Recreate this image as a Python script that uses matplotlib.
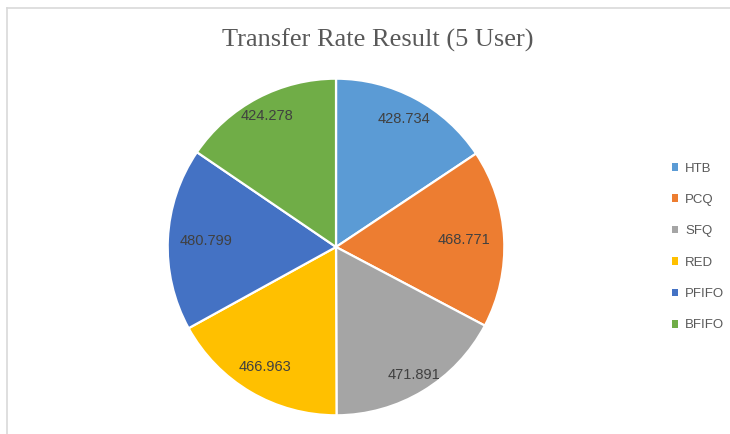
import matplotlib
matplotlib.use("Agg")
import matplotlib.pyplot as plt
import numpy as np
from matplotlib.patches import Patch
from matplotlib.lines import Line2D

categories = ["HTB", "PCQ", "SFQ", "RED", "PFIFO", "BFIFO"]
values = [428.734, 468.771, 471.891, 466.963, 480.799, 424.278]
colors = ["#5B9BD5", "#ED7D31", "#A5A5A5", "#FFC000", "#4472C4", "#70AD47"]
title = "Transfer Rate Result (5 User)"
# radial position of each data label (fraction of radius), as placed in the original
label_dist = [0.86, 0.76, 0.89, 0.83, 0.77, 0.88]

fig = plt.figure(figsize=(7.30, 4.34), dpi=100)
fig.patch.set_facecolor("white")

# light border (top and left visible)
fig.add_artist(Line2D([7/730, 1], [1-8/434, 1-8/434], color="#D9D9D9", lw=1.2, transform=fig.transFigure))
fig.add_artist(Line2D([7/730, 7/730], [0, 1-8/434], color="#D9D9D9", lw=1.2, transform=fig.transFigure))

ax = fig.add_axes([0.2274, 0.0392, 0.4658, 0.7834])
wedges, _ = ax.pie(values, colors=colors, startangle=90, counterclock=False,
                   radius=1.0, wedgeprops=dict(edgecolor="white", linewidth=1.6))
for w, v, d in zip(wedges, values, label_dist):
    ang = np.deg2rad((w.theta1 + w.theta2) / 2)
    ax.text(d * np.cos(ang), d * np.sin(ang), f"{v:.3f}", ha="center", va="center",
            fontsize=10.5, color="#404040", family="Liberation Sans")
ax.set_xlim(-1.01, 1.01)
ax.set_ylim(-1.01, 1.01)
ax.set_aspect("equal")
ax.axis("off")

fig.text(0.517, 1-40/434, title, ha="center", va="center", fontsize=19,
         family="Liberation Serif", color="#595959")

handles = [Patch(facecolor=c, edgecolor="none") for c in colors]
leg = fig.legend(handles, categories, loc="center left", bbox_to_anchor=(0.913, 1-247/434),
                 frameon=False, labelspacing=1.47, handlelength=0.5,
                 handleheight=0.5, handletextpad=0.5, borderaxespad=0,
                 prop={"family": "Liberation Sans", "size": 9.5})
for t in leg.get_texts():
    t.set_color("#595959")

fig.savefig("out.png", dpi=100, facecolor="white")
